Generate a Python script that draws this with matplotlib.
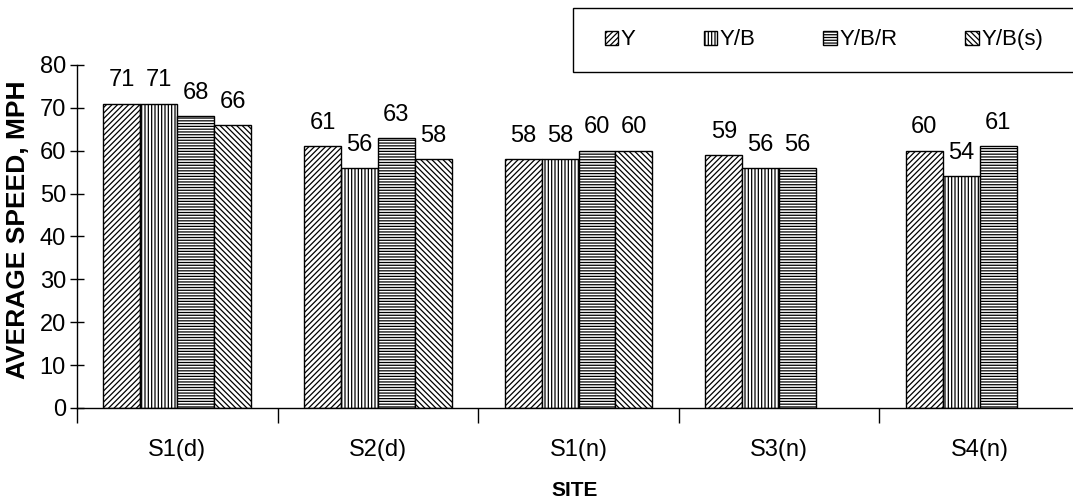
import numpy as np
import matplotlib
matplotlib.use("Agg")
import matplotlib.pyplot as plt
from matplotlib.patches import Rectangle

plt.rcParams['font.family'] = ['Liberation Sans', 'DejaVu Sans']
plt.rcParams['hatch.linewidth'] = 0.9

sites = ["S1(d)", "S2(d)", "S1(n)", "S3(n)", "S4(n)"]
series_names = ["Y", "Y/B", "Y/B/R", "Y/B(s)"]
y_vals = [71, 61, 58, 59, 60]
yb_vals = [71, 56, 58, 56, 54]
ybr_vals = [68, 63, 60, 56, 61]
ybs_vals = [66, 58, 60, np.nan, np.nan]
series_vals = [y_vals, yb_vals, ybr_vals, ybs_vals]
hatches = ["//////", "|||||", "------", "\\\\\\\\\\\\"]
yticks = [0, 10, 20, 30, 40, 50, 60, 70, 80]

fig = plt.figure(figsize=(10.73, 5.04), dpi=100)
ax = fig.add_axes([77/1073, 1-408/504, 1003/1073, 343/504])

x = np.arange(len(sites))
w = 0.184
offsets = np.array([-1.5, -0.5, 0.5, 1.5]) * w
handles = []
for name, vals, h, off in zip(series_names, series_vals, hatches, offsets):
    vals = np.array(vals, dtype=float)
    bars = ax.bar(x + off, vals, w, facecolor='white', edgecolor='black',
                  hatch=h, linewidth=1.0, label=name)
    handles.append(bars)
    for xi, v in zip(x + off, vals):
        if not np.isnan(v):
            ax.annotate(f"{int(v)}", (xi, v), xytext=(0, 12.5),
                        textcoords='offset points', ha='center', va='baseline',
                        fontsize=17)

ax.set_xlim(-0.5, 4.5)
ax.set_ylim(0, 80)
ax.set_yticks(yticks)
ax.set_yticklabels([str(t) for t in yticks], fontsize=17)
ax.tick_params(axis='y', direction='inout', length=10, width=1, pad=3)

ax.set_xticks(np.arange(-0.5, 4.0, 1.0))
ax.set_xticklabels([])
ax.set_xticks(x, minor=True)
ax.set_xticklabels(sites, minor=True, fontsize=17)
ax.tick_params(axis='x', which='major', direction='out', length=11, width=1)
ax.tick_params(axis='x', which='minor', length=0, pad=22)

for s in ['top', 'right']:
    ax.spines[s].set_visible(False)
for s in ['left', 'bottom']:
    ax.spines[s].set_linewidth(1.0)

fig.text(18/1073, 1-230/504, "AVERAGE SPEED, MPH", rotation=90, fontsize=19,
         fontweight='bold', ha='center', va='center')
fig.text(575/1073, 1-490/504, "SITE", fontsize=15, fontweight='bold',
         ha='center', va='center')

# legend box
fig.patches.append(Rectangle((573/1073, 1-72/504), 520/1073, 64/504,
                             transform=fig.transFigure, facecolor='white',
                             edgecolor='black', linewidth=1.0))
leg = fig.legend(handles, series_names, loc='center left',
                 bbox_to_anchor=(605/1073, 1-40/504), ncol=4, frameon=False,
                 fontsize=16, handlelength=0.6, handleheight=0.6,
                 handletextpad=0.12, columnspacing=3.05, borderpad=0,
                 borderaxespad=0)

fig.savefig("out.png", dpi=100)
